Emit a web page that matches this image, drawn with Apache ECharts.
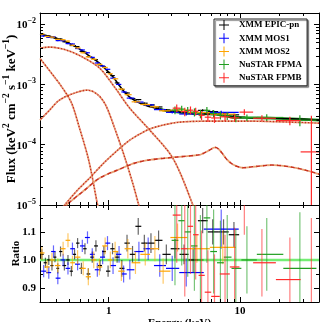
<!DOCTYPE html>
<html>
<head>
<meta charset="utf-8">
<script src="https://cdn.jsdelivr.net/npm/echarts@6.0.0/dist/echarts.min.js"></script>
<style>
html, body { margin: 0; padding: 0; background: #fff; }
#chart { width: 336px; height: 322px; }
</style>
</head>
<body>
<div id="chart"></div>
<script>
// axis ranges
const xMin = 0.3, xMax = 40;
const yMin = 1e-5, yMax = 0.0153;
const rMin = 0.85, rMax = 1.196;

// tick labels
const xTickLabels = { 1: '1', 10: '10' };
const yTickExps = { '-5': '−5', '-4': '−4', '-3': '−3', '-2': '−2' };
const rTickLabels = { 90: '0.9', 100: '1.0', 110: '1.1' };
const xMinorTicks = [0.3, 0.4, 0.5, 0.6, 0.7, 0.8, 0.9, 2, 3, 4, 5, 6, 7, 8, 9, 20, 30, 40];
const yMinorTicks = [2e-5, 3e-5, 4e-5, 5e-5, 6e-5, 7e-5, 8e-5, 9e-5,
                     2e-4, 3e-4, 4e-4, 5e-4, 6e-4, 7e-4, 8e-4, 9e-4,
                     2e-3, 3e-3, 4e-3, 5e-3, 6e-3, 7e-3, 8e-3, 9e-3];
const rMinorTicks = [0.95, 1.05, 1.15];

// total model (keV, keV^2 cm^-2 s^-1 keV^-1)
const totalE = [0.3, 0.35, 0.394, 0.45, 0.531, 0.62, 0.716, 0.84, 0.965, 1.09, 1.213, 1.3, 1.446, 1.724, 2.0, 2.45, 3.0, 4.15, 5.5, 6.43, 7.5, 8.84, 11, 16.9, 25, 40];
const totalF = [6.8e-3, 6.35e-3, 5.86e-3, 5.35e-3, 4.49e-3, 3.7e-3, 2.95e-3, 2.3e-3, 1.73e-3, 1.3e-3, 9.4e-4, 7.8e-4, 6.15e-4, 4.9e-4, 4.35e-4, 3.9e-4, 3.55e-4, 3.34e-4, 3.25e-4, 3.2e-4, 3.05e-4, 2.87e-4, 2.82e-4, 2.76e-4, 2.68e-4, 2.56e-4];

// model components
const diskE = [0.3, 0.355, 0.478, 0.633, 0.854, 1.111, 1.446, 2.055, 3.08, 4.38, 4.8];
const diskF = [4.0e-3, 4.16e-3, 3.71e-3, 2.84e-3, 1.86e-3, 9.0e-4, 4.04e-4, 1.75e-4, 6.0e-5, 1.0e-5, 5e-6];
const softE = [0.3, 0.387, 0.446, 0.522, 0.60, 0.704, 0.824, 0.87];
const softF = [2.7e-3, 1.32e-3, 8.7e-4, 4.9e-4, 1.88e-4, 5.6e-5, 1.0e-5, 6e-6];
const bbE = [0.3, 0.355, 0.422, 0.55, 0.69, 0.824, 0.949, 1.111, 1.325, 1.525, 1.694, 1.8];
const bbF = [2.56e-4, 3.75e-4, 5.5e-4, 7.2e-4, 8.05e-4, 6.8e-4, 4.54e-4, 1.88e-4, 6.2e-5, 2.3e-5, 1.0e-5, 6e-6];
const plE = [0.42, 0.462, 0.58, 0.716, 0.916, 1.17, 1.446, 1.724, 2.055, 2.58, 3.48, 5.9, 11.9, 24, 40];
const plF = [7.5e-6, 1.0e-5, 1.77e-5, 2.8e-5, 4.95e-5, 8.1e-5, 1.19e-4, 1.5e-4, 1.82e-4, 2.11e-4, 2.37e-4, 2.46e-4, 2.46e-4, 2.37e-4, 2.28e-4];
const reflE = [0.44, 0.478, 0.656, 0.854, 1.17, 1.58, 2.055, 3.19, 4.95, 5.4, 5.9, 6.3, 6.55, 6.9, 7.4, 7.9, 8.84, 10.55, 13.7, 17.5, 24, 31.3, 40];
const reflF = [8e-6, 1.0e-5, 1.77e-5, 2.8e-5, 3.8e-5, 4.95e-5, 5.6e-5, 6.2e-5, 6.8e-5, 7.4e-5, 8.2e-5, 8.9e-5, 9.0e-5, 8.4e-5, 7.0e-5, 5.8e-5, 4.7e-5, 4.15e-5, 4.4e-5, 4.6e-5, 4.3e-5, 3.8e-5, 3.25e-5];

// XMM EPIC-pn
const pnE = [0.31, 0.33, 0.35, 0.37, 0.39, 0.41, 0.43, 0.46, 0.49, 0.52, 0.55, 0.58, 0.62, 0.66, 0.70, 0.75, 0.80, 0.86, 0.92, 0.99, 1.07, 1.16, 1.26, 1.38, 1.52, 1.68, 1.87, 2.1, 2.4, 2.75, 3.2, 3.75, 4.4, 5.2, 6.2, 7.5, 9.0];
const pnF = [6.83e-3, 6.44e-3, 6.30e-3, 5.98e-3, 5.96e-3, 5.53e-3, 5.67e-3, 5.10e-3, 4.90e-3, 4.42e-3, 4.39e-3, 4.24e-3, 3.54e-3, 3.43e-3, 2.90e-3, 2.78e-3, 2.57e-3, 2.11e-3, 1.96e-3, 1.58e-3, 1.40e-3, 1.06e-3, 8.25e-4, 7.21e-4, 5.81e-4, 5.60e-4, 4.88e-4, 4.56e-4, 4.23e-4, 3.77e-4, 3.64e-4, 3.47e-4, 3.30e-4, 3.71e-4, 3.54e-4, 3.36e-4, 3.13e-4];
const pnR = [1.02, 0.99, 1.00, 0.98, 1.01, 0.97, 1.03, 0.98, 1.00, 0.96, 1.02, 1.06, 0.97, 1.04, 0.95, 1.01, 1.05, 0.98, 1.03, 0.96, 1.04, 1.01, 0.97, 1.06, 1.02, 1.12, 1.06, 1.06, 1.07, 1.02, 1.04, 1.02, 1.00, 1.14, 1.10, 1.10, 1.09];
const pnErr = [0.018, 0.018, 0.018, 0.018, 0.018, 0.018, 0.018, 0.018, 0.018, 0.018, 0.018, 0.018, 0.02, 0.02, 0.02, 0.02, 0.02, 0.02, 0.02, 0.02, 0.02, 0.02, 0.03, 0.03, 0.03, 0.03, 0.03, 0.035, 0.035, 0.035, 0.035, 0.035, 0.045, 0.045, 0.045, 0.045, 0.045];

// XMM MOS1
const m1E = [0.32, 0.35, 0.38, 0.41, 0.45, 0.49, 0.53, 0.58, 0.63, 0.69, 0.75, 0.82, 0.90, 0.98, 1.08, 1.2, 1.3, 1.45, 1.7, 2.0, 2.45, 3.05, 3.9, 7.2];
const m1F = [6.34e-3, 6.02e-3, 6.18e-3, 5.33e-3, 5.30e-3, 4.75e-3, 4.68e-3, 3.94e-3, 3.73e-3, 3.35e-3, 2.81e-3, 2.27e-3, 2.02e-3, 1.78e-3, 1.27e-3, 1.0e-3, 7.5e-4, 5.93e-4, 5.10e-4, 4.58e-4, 3.82e-4, 3.44e-4, 3.23e-4, 3.44e-4];
const m1R = [0.96, 0.955, 1.03, 0.935, 1.00, 0.97, 1.04, 0.985, 1.05, 1.08, 1.02, 0.965, 1.01, 1.06, 0.98, 1.02, 0.95, 0.965, 1.03, 1.04, 0.98, 0.97, 0.955, 1.11];
const m1Err = [0.022, 0.022, 0.022, 0.022, 0.022, 0.022, 0.022, 0.022, 0.022, 0.022, 0.022, 0.025, 0.025, 0.025, 0.03, 0.03, 0.03, 0.035, 0.035, 0.04, 0.04, 0.045, 0.05, 0.07];

// XMM MOS2
const m2E = [0.31, 0.34, 0.37, 0.41, 0.45, 0.49, 0.53, 0.58, 0.64, 0.70, 0.77, 0.85, 0.94, 1.03, 1.12, 1.25, 1.4, 1.6, 1.9, 2.25, 2.6, 3.35, 4.7, 7.4];
const m2F = [6.87e-3, 6.24e-3, 6.10e-3, 5.59e-3, 5.51e-3, 5.24e-3, 4.46e-3, 4.04e-3, 3.35e-3, 2.87e-3, 2.62e-3, 2.15e-3, 1.91e-3, 1.50e-3, 1.24e-3, 8.35e-4, 6.76e-4, 5.15e-4, 4.64e-4, 4.26e-4, 3.65e-4, 3.75e-4, 3.41e-4, 3.21e-4];
const m2R = [1.025, 0.975, 1.00, 0.98, 1.04, 1.07, 0.99, 1.01, 0.97, 0.94, 1.00, 0.975, 1.05, 1.00, 1.03, 0.96, 1.04, 0.99, 1.02, 1.04, 0.96, 1.08, 1.04, 1.045];
const m2Err = [0.025, 0.025, 0.025, 0.025, 0.025, 0.025, 0.025, 0.025, 0.025, 0.03, 0.03, 0.03, 0.03, 0.03, 0.035, 0.035, 0.035, 0.04, 0.04, 0.045, 0.045, 0.05, 0.05, 0.06];

// NuSTAR FPMA
const faE = [3.2, 3.6, 4.0, 4.5, 5.0, 5.6, 6.3, 7.1, 8.0, 9.3, 11.3, 16.0, 28.6];
const faF = [3.75e-4, 3.90e-4, 3.70e-4, 3.47e-4, 3.26e-4, 3.71e-4, 3.30e-4, 3.09e-4, 3.01e-4, 2.76e-4, 2.82e-4, 2.83e-4, 2.55e-4];
const faR = [1.07, 1.14, 1.10, 1.05, 1.00, 1.15, 1.03, 0.99, 1.01, 0.97, 1.00, 1.02, 0.97];
const faErr = [0.16, 0.16, 0.16, 0.16, 0.16, 0.16, 0.15, 0.15, 0.15, 0.14, 0.12, 0.13, 0.2];

// NuSTAR FPMB
const fbE = [3.3, 3.8, 4.2, 4.6, 5.1, 5.7, 6.4, 7.7, 9.1, 10.8, 14.7, 24, 35];
const fbF = [4.04e-4, 3.54e-4, 3.74e-4, 3.59e-4, 3.07e-4, 2.86e-4, 2.78e-4, 2.90e-4, 2.79e-4, 3.47e-4, 2.75e-4, 2.51e-4, 7.6e-5];
const fbR = [1.16, 1.04, 1.12, 1.09, 0.945, 0.885, 0.87, 0.95, 0.975, 1.23, 0.99, 0.93, 0.29];
const fbErr = [0.17, 0.17, 0.17, 0.16, 0.16, 0.15, 0.15, 0.14, 0.14, 0.14, 0.12, 0.15, 0.86];

const unityLine = [[xMin, 1], [xMax, 1]];

const instruments = [
  { name: 'XMM EPIC-pn', color: '#000000', E: pnE, F: pnF, R: pnR, err: pnErr },
  { name: 'XMM MOS1', color: '#0000ff', E: m1E, F: m1F, R: m1R, err: m1Err },
  { name: 'XMM MOS2', color: '#ffa500', E: m2E, F: m2F, R: m2R, err: m2Err },
  { name: 'NuSTAR FPMA', color: '#1f9e1f', E: faE, F: faF, R: faR, err: faErr },
  { name: 'NuSTAR FPMB', color: '#ff2a2a', E: fbE, F: fbF, R: fbR, err: fbErr }
];

const serif = 'Liberation Serif';
const crossIcon = 'path://M4.5,0H5.5V4.5H10V5.5H5.5V10H4.5V5.5H0V4.5H4.5Z';

function edges(E, i) {
  const lo = i > 0 ? Math.sqrt(E[i - 1] * E[i]) : E[i] * Math.sqrt(E[i] / E[i + 1]);
  const hi = i < E.length - 1 ? Math.sqrt(E[i] * E[i + 1]) : E[i] * Math.sqrt(E[i] / E[i - 1]);
  return [lo, hi];
}

function crossRender(color, vOpacity) {
  return function (params, api) {
    const e = api.value(0), v = api.value(1);
    const c = api.coord([e, v]);
    const xl = api.coord([api.value(4), v])[0];
    const xr = api.coord([api.value(5), v])[0];
    const yl = api.coord([e, api.value(2)])[1];
    const yh = api.coord([e, api.value(3)])[1];
    return {
      type: 'group',
      children: [
        { type: 'line', shape: { x1: c[0], y1: yl, x2: c[0], y2: yh }, style: { stroke: color, lineWidth: 1.2, opacity: vOpacity } },
        { type: 'line', shape: { x1: xl, y1: c[1], x2: xr, y2: c[1] }, style: { stroke: color, lineWidth: 1.2 } }
      ]
    };
  };
}

function xTickRender(params, api) {
  const cs = params.coordSys;
  const x = Math.round(api.coord([api.value(0), api.value(1)])[0]) + 0.5;
  return {
    type: 'group',
    children: [
      { type: 'line', shape: { x1: x, y1: cs.y, x2: x, y2: cs.y + 3 }, style: { stroke: '#000', lineWidth: 1 } },
      { type: 'line', shape: { x1: x, y1: cs.y + cs.height, x2: x, y2: cs.y + cs.height - 3 }, style: { stroke: '#000', lineWidth: 1 } }
    ]
  };
}

function yTickRender(params, api) {
  const cs = params.coordSys;
  const y = Math.round(api.coord([api.value(0), api.value(1)])[1]) + 0.5;
  return {
    type: 'group',
    children: [
      { type: 'line', shape: { x1: cs.x, y1: y, x2: cs.x + 3, y2: y }, style: { stroke: '#000', lineWidth: 1 } },
      { type: 'line', shape: { x1: cs.x + cs.width, y1: y, x2: cs.x + cs.width - 3, y2: y }, style: { stroke: '#000', lineWidth: 1 } }
    ]
  };
}

function pairs(E, F) { return E.map((e, i) => [e, F[i]]); }

const series = [];

// dotted / dashed model components: red and orange dashes alternating
function component(E, F, dash) {
  series.push({
    type: 'line', xAxisIndex: 0, yAxisIndex: 0, data: pairs(E, F), smooth: 0.3, symbol: 'none', silent: true,
    lineStyle: { color: '#e8a070', width: 1.8, type: dash }, z: 2
  });
  series.push({
    type: 'line', xAxisIndex: 0, yAxisIndex: 0, data: pairs(E, F), smooth: 0.3, symbol: 'none', silent: true,
    lineStyle: { color: '#c8321e', width: 1.6, type: dash, dashOffset: dash[0] }, z: 2
  });
}
component(diskE, diskF, [1.6, 1.6]);
component(softE, softF, [1.6, 1.6]);
component(bbE, bbF, [1.6, 1.6]);
component(plE, plF, [1.6, 1.6]);
component(reflE, reflF, [4, 3]);

// total model
series.push({
  type: 'line', xAxisIndex: 0, yAxisIndex: 0, data: pairs(totalE, totalF).filter(p => p[0] >= 2.45),
  smooth: 0.3, symbol: 'none', silent: true, lineStyle: { color: '#1f9e1f', width: 2.6 }, z: 3
});
series.push({
  type: 'line', xAxisIndex: 0, yAxisIndex: 0, data: pairs(totalE, totalF),
  smooth: 0.3, symbol: 'none', silent: true, lineStyle: { color: '#000', width: 1.6 }, z: 3
});

// unity line in ratio panel
series.push({
  type: 'line', xAxisIndex: 2, yAxisIndex: 2, data: unityLine, symbol: 'none', silent: true,
  lineStyle: { color: '#74ee74', width: 2.5 }, z: 2
});

instruments.forEach(inst => {
  const top = inst.E.map((e, i) => {
    const ed = edges(inst.E, i);
    const rel = inst.err[i] / inst.R[i];
    return [e, inst.F[i], Math.max(inst.F[i] * (1 - rel), 1e-8), inst.F[i] * (1 + rel), ed[0], ed[1]];
  });
  const bot = inst.E.map((e, i) => {
    const ed = edges(inst.E, i);
    return [e, inst.R[i], inst.R[i] - inst.err[i], inst.R[i] + inst.err[i], ed[0], ed[1]];
  });
  series.push({
    type: 'custom', name: inst.name, xAxisIndex: 0, yAxisIndex: 0, data: top, clip: true, silent: true,
    itemStyle: { color: inst.color }, renderItem: crossRender(inst.color, 1),
    encode: { x: 0, y: 1 }, z: 4
  });
  series.push({
    type: 'custom', name: inst.name, xAxisIndex: 2, yAxisIndex: 2, data: bot, clip: true, silent: true,
    itemStyle: { color: inst.color }, renderItem: crossRender(inst.color, 0.6),
    encode: { x: 0, y: 1 }, z: 4
  });
});

// minor ticks
series.push({ type: 'custom', xAxisIndex: 0, yAxisIndex: 0, silent: true, data: xMinorTicks.map(v => [v, yMin]), renderItem: xTickRender, encode: { x: 0, y: 1 }, z: 10 });
series.push({ type: 'custom', xAxisIndex: 0, yAxisIndex: 0, silent: true, data: yMinorTicks.map(v => [xMin, v]), renderItem: yTickRender, encode: { x: 0, y: 1 }, z: 10 });
series.push({ type: 'custom', xAxisIndex: 2, yAxisIndex: 2, silent: true, data: xMinorTicks.map(v => [v, 1]), renderItem: xTickRender, encode: { x: 0, y: 1 }, z: 10 });
series.push({ type: 'custom', xAxisIndex: 2, yAxisIndex: 2, silent: true, data: rMinorTicks.map(v => [xMin, v]), renderItem: yTickRender, encode: { x: 0, y: 1 }, z: 10 });

const lineBlack = { show: true, lineStyle: { color: '#000', width: 1 } };
const tickIn = { show: true, inside: true, length: 5, lineStyle: { color: '#000', width: 1 } };
const labelFont = { fontFamily: serif, fontWeight: 'bold', fontSize: 11, color: '#000' };
const supRich = {
  a: { fontFamily: serif, fontWeight: 'bold', fontSize: 11, color: '#000', lineHeight: 14, verticalAlign: 'bottom' },
  b: { fontFamily: serif, fontWeight: 'bold', fontSize: 8, color: '#000', lineHeight: 8, verticalAlign: 'top' }
};
const nameRich = {
  a: { fontFamily: serif, fontWeight: 'bold', fontSize: 13, color: '#000', lineHeight: 16, verticalAlign: 'bottom' },
  b: { fontFamily: serif, fontWeight: 'bold', fontSize: 9.5, color: '#000', lineHeight: 9, verticalAlign: 'top' }
};

function xAxisDef(grid, pos, labels) {
  return {
    type: 'log', gridIndex: grid, position: pos, min: xMin, max: xMax, logBase: 10,
    axisLine: lineBlack, axisTick: tickIn, splitLine: { show: false },
    axisLabel: labels ? Object.assign({ show: true, margin: 4, formatter: v => xTickLabels[Math.round(v)] || '' }, labelFont) : { show: false }
  };
}

const option = {
  animation: false,
  backgroundColor: '#fff',
  grid: [
    { left: 40, top: 13, width: 279, height: 192, outerBoundsMode: 'none', containLabel: false },
    { left: 40, top: 205, width: 279, height: 97, outerBoundsMode: 'none', containLabel: false }
  ],
  legend: {
    orient: 'vertical', left: 214, top: 19,
    padding: [1, 5, 3, 5], itemWidth: 20, itemHeight: 10, itemGap: 3.2,
    backgroundColor: '#fff', borderColor: '#222', borderWidth: 1,
    shadowColor: 'rgba(0,0,0,0.45)', shadowOffsetX: 1.5, shadowOffsetY: 1.5, shadowBlur: 1,
    selectedMode: false,
    textStyle: { fontFamily: serif, fontWeight: 'bold', fontSize: 9, color: '#000' },
    data: instruments.map(inst => ({ name: inst.name, icon: crossIcon, itemStyle: { color: inst.color } }))
  },
  xAxis: [
    xAxisDef(0, 'bottom', false),
    xAxisDef(0, 'top', false),
    Object.assign(xAxisDef(1, 'bottom', true), {
      name: 'Energy (keV)', nameLocation: 'middle', nameGap: 16, nameMoveOverlap: false,
      nameTextStyle: labelFont
    }),
    xAxisDef(1, 'top', false)
  ],
  yAxis: [
    {
      type: 'log', gridIndex: 0, position: 'left', min: yMin, max: yMax, logBase: 10,
      axisLine: lineBlack, axisTick: tickIn, splitLine: { show: false },
      axisLabel: {
        margin: 4,
        formatter: v => '{a|10}{b|' + (yTickExps[String(Math.round(Math.log10(v)))] || '') + '}',
        rich: supRich
      },
      name: '{a|Flux (keV}{b|2}{a| cm}{b|−2}{a| s}{b|−1}{a| keV}{b|−1}{a|)}',
      nameLocation: 'middle', nameGap: 22, nameMoveOverlap: false, nameTextStyle: { rich: nameRich }
    },
    {
      type: 'log', gridIndex: 0, position: 'right', min: yMin, max: yMax, logBase: 10,
      axisLine: lineBlack, axisTick: tickIn, splitLine: { show: false }, axisLabel: { show: false }
    },
    {
      type: 'value', gridIndex: 1, position: 'left', min: rMin, max: rMax, splitNumber: 3,
      axisLine: lineBlack, axisTick: tickIn, splitLine: { show: false },
      axisLabel: Object.assign({ margin: 4, formatter: v => rTickLabels[Math.round(v * 100)] || '' }, labelFont),
      name: 'Ratio', nameLocation: 'middle', nameGap: 18, nameMoveOverlap: false, nameTextStyle: labelFont
    },
    {
      type: 'value', gridIndex: 1, position: 'right', min: rMin, max: rMax, splitNumber: 3,
      axisLine: lineBlack, axisTick: tickIn, splitLine: { show: false }, axisLabel: { show: false }
    }
  ],
  series: series
};

const chart = echarts.init(document.getElementById('chart'), null, { renderer: 'canvas' });
chart.setOption(option);
</script>
</body>
</html>
